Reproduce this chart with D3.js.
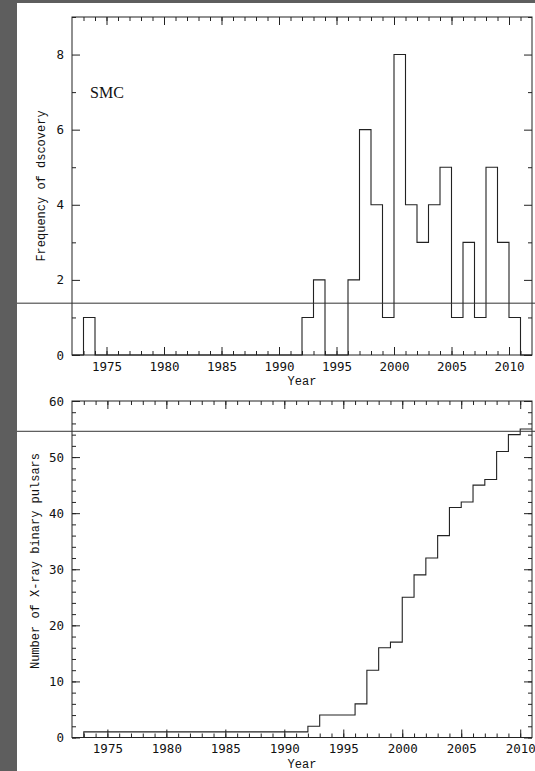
<!DOCTYPE html>
<html>
<head>
<meta charset="utf-8">
<script src="https://cdn.jsdelivr.net/npm/d3@7"></script>
<style>
  body { margin: 0; background: #fff; }
  .axis text { font-family: "DejaVu Sans Mono", "Liberation Mono", monospace; font-size: 12.5px; fill: #111; }
  .axis line { stroke: #222; }
  .axis path { display: none; }
  .label { font-family: "Liberation Mono", "DejaVu Sans Mono", monospace; font-size: 12px; fill: #111; }
</style>
</head>
<body>
<div id="chart"></div>
<script>
var svgWidth = 535;
var svgHeight = 771;

// discovery years (bins) and number of SMC X-ray binary pulsars found per year
var years = [1972, 1973, 1974, 1975, 1976, 1977, 1978, 1979, 1980, 1981,
  1982, 1983, 1984, 1985, 1986, 1987, 1988, 1989, 1990, 1991,
  1992, 1993, 1994, 1995, 1996, 1997, 1998, 1999, 2000, 2001,
  2002, 2003, 2004, 2005, 2006, 2007, 2008, 2009, 2010, 2011];
var perYear = [0, 1, 0, 0, 0, 0, 0, 0, 0, 0,
  0, 0, 0, 0, 0, 0, 0, 0, 0, 0,
  1, 2, 0, 0, 2, 6, 4, 1, 8, 4,
  3, 4, 5, 1, 3, 1, 5, 3, 1, 0];
// running total, 1972 .. 2010
var cumYears = years.slice(0, 39);
var cumulative = [0, 1, 1, 1, 1, 1, 1, 1, 1, 1,
  1, 1, 1, 1, 1, 1, 1, 1, 1, 1,
  2, 4, 4, 4, 6, 12, 16, 17, 25, 29,
  32, 36, 41, 42, 45, 46, 51, 54, 55];

// horizontal reference lines (mean rate per year, total)
var meanRate = 1.38;
var totalLine = 54.6;

var topYMajor = [0, 2, 4, 6, 8];
var topYMinor = [1, 3, 5, 7, 9];
var botYMajor = [0, 10, 20, 30, 40, 50, 60];
var botYMinor = d3.range(0, 61, 2);
var xMajor = [1975, 1980, 1985, 1990, 1995, 2000, 2005, 2010];

var svg = d3.select("#chart")
  .append("svg")
  .attr("width", svgWidth)
  .attr("height", svgHeight);

// dark viewer border
svg.append("rect").attr("x", 0).attr("y", 0).attr("width", svgWidth).attr("height", 3).attr("fill", "#5e5e5e");
svg.append("rect").attr("x", 0).attr("y", 0).attr("width", 17).attr("height", svgHeight).attr("fill", "#5e5e5e");

// draw frame with inward ticks on all four sides
function drawFrame(x, y, xMinor, yMinor, yMajor, xLabelY) {
  var x0 = x.range()[0], x1 = x.range()[1];
  var y0 = y.range()[0], y1 = y.range()[1];

  // bottom
  svg.append("g").attr("class", "axis")
    .attr("transform", `translate(0, ${y0})`)
    .call(d3.axisBottom(x).tickValues(xMinor).tickSize(-4).tickFormat(""));
  svg.append("g").attr("class", "axis")
    .attr("transform", `translate(0, ${y0})`)
    .call(d3.axisBottom(x).tickValues(xMajor).tickSize(-8).tickPadding(xLabelY).tickFormat(d3.format("d")));
  // top
  svg.append("g").attr("class", "axis")
    .attr("transform", `translate(0, ${y1})`)
    .call(d3.axisTop(x).tickValues(xMinor).tickSize(-4).tickFormat(""));
  svg.append("g").attr("class", "axis")
    .attr("transform", `translate(0, ${y1})`)
    .call(d3.axisTop(x).tickValues(xMajor).tickSize(-8).tickFormat(""));
  // left
  svg.append("g").attr("class", "axis")
    .attr("transform", `translate(${x0}, 0)`)
    .call(d3.axisLeft(y).tickValues(yMinor).tickSize(-4).tickFormat(""));
  svg.append("g").attr("class", "axis")
    .attr("transform", `translate(${x0}, 0)`)
    .call(d3.axisLeft(y).tickValues(yMajor).tickSize(-8).tickPadding(8).tickFormat(d3.format("d")));
  // right
  svg.append("g").attr("class", "axis")
    .attr("transform", `translate(${x1}, 0)`)
    .call(d3.axisRight(y).tickValues(yMinor).tickSize(-4).tickFormat(""));
  svg.append("g").attr("class", "axis")
    .attr("transform", `translate(${x1}, 0)`)
    .call(d3.axisRight(y).tickValues(yMajor).tickSize(-8).tickFormat(""));

  svg.append("rect")
    .attr("x", x0).attr("y", y1)
    .attr("width", x1 - x0).attr("height", y0 - y1)
    .attr("fill", "none").attr("stroke", "#222");
}

// ---------- top panel: frequency histogram ----------
var xTop = d3.scaleLinear().domain([1972, 2012]).range([72, 532]);
var yTop = d3.scaleLinear().domain([0, 9]).range([355, 17]);

var histPts = years.map((d, i) => [d, perYear[i]]);
histPts.push([2012, 0]);

var stepLine = d3.line().curve(d3.curveStepAfter);

svg.append("path")
  .attr("d", stepLine.x(d => xTop(d[0])).y(d => yTop(d[1]))(histPts))
  .attr("fill", "none")
  .attr("stroke", "#222")
  .attr("stroke-width", 1.1);

drawFrame(xTop, yTop, years.slice(1), topYMinor, topYMajor, 7);

svg.append("line")
  .attr("x1", 17).attr("x2", svgWidth)
  .attr("y1", yTop(meanRate)).attr("y2", yTop(meanRate))
  .attr("stroke", "#333");

svg.append("text")
  .attr("x", 90).attr("y", 98)
  .attr("font-family", "Liberation Serif, serif")
  .attr("font-size", "16px")
  .attr("fill", "#111")
  .text("SMC");

svg.append("text").classed("label", true)
  .attr("x", 302).attr("y", 385)
  .attr("text-anchor", "middle")
  .text("Year");

svg.append("text").classed("label", true)
  .attr("transform", `translate(45, ${(17 + 355) / 2}) rotate(-90)`)
  .attr("text-anchor", "middle")
  .text("Frequency of dscovery");

// ---------- bottom panel: cumulative number ----------
var xBot = d3.scaleLinear().domain([1972, 2011]).range([72, 532]);
var yBot = d3.scaleLinear().domain([0, 60]).range([737.5, 401]);

var cumPts = cumYears.map((d, i) => [d, cumulative[i]]);
cumPts.push([2011, cumulative[cumulative.length - 1]]);

svg.append("path")
  .attr("d", stepLine.x(d => xBot(d[0])).y(d => yBot(d[1]))(cumPts))
  .attr("fill", "none")
  .attr("stroke", "#222")
  .attr("stroke-width", 1.1);

drawFrame(xBot, yBot, years.slice(1, 39), botYMinor, botYMajor, 7);

svg.append("line")
  .attr("x1", 17).attr("x2", svgWidth)
  .attr("y1", yBot(totalLine)).attr("y2", yBot(totalLine))
  .attr("stroke", "#333");

svg.append("text").classed("label", true)
  .attr("x", 302).attr("y", 768)
  .attr("text-anchor", "middle")
  .text("Year");

svg.append("text").classed("label", true)
  .attr("transform", `translate(39, 561) rotate(-90)`)
  .attr("text-anchor", "middle")
  .text("Number of X-ray binary pulsars");
</script>
</body>
</html>
